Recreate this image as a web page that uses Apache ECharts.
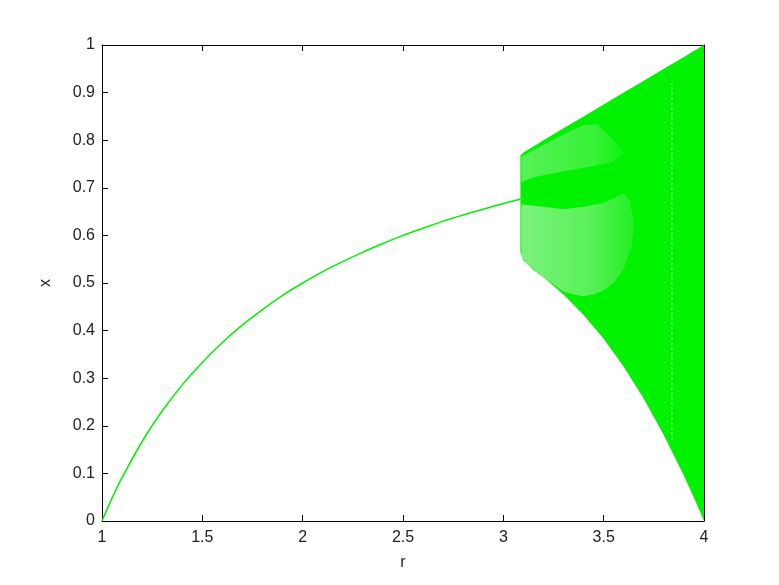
<!DOCTYPE html>
<html>
<head>
<meta charset="utf-8">
<script src="https://cdn.jsdelivr.net/npm/echarts@6/dist/echarts.min.js"></script>
<style>
html,body{margin:0;padding:0;background:#fff;}
#main{width:779px;height:585px;}
</style>
</head>
<body>
<div id="main"></div>
<script>
// Period-1 branch (r < ~3.08)
const curveR = [1, 1.05, 1.1, 1.2, 1.3, 1.4, 1.5, 1.6, 1.7, 1.8, 1.9, 2, 2.1, 2.2, 2.3, 2.4, 2.5, 2.6, 2.7, 2.8, 2.9, 3, 3.085];
const curveX = [0, 0.048, 0.091, 0.167, 0.231, 0.286, 0.333, 0.375, 0.412, 0.444, 0.474, 0.5, 0.524, 0.545, 0.565, 0.583, 0.6, 0.615, 0.63, 0.643, 0.655, 0.667, 0.676];

// Envelope of the dense region (upper edge, left to right)
const upperR = [3.085, 3.1, 3.15, 3.2, 3.3, 3.4, 3.5, 3.6, 3.7, 3.8, 3.9, 4.0];
const upperX = [0.768, 0.774, 0.787, 0.8, 0.825, 0.85, 0.875, 0.9, 0.925, 0.95, 0.975, 1.0];
// lower edge, right to left
const lowerR = [4.0, 3.95, 3.9, 3.8, 3.7, 3.6, 3.5, 3.4, 3.3, 3.2, 3.15, 3.1, 3.085];
const lowerX = [0.0, 0.049, 0.095, 0.18, 0.257, 0.324, 0.383, 0.433, 0.476, 0.512, 0.528, 0.548, 0.566];

// Sparser (speckled) lobes inside the dense region
const lobeLowR = [3.09, 3.2, 3.3, 3.4, 3.5, 3.6, 3.63, 3.65, 3.64, 3.6, 3.55, 3.5, 3.45, 3.4, 3.35, 3.3, 3.2, 3.12, 3.09];
const lobeLowX = [0.665, 0.66, 0.655, 0.66, 0.668, 0.688, 0.675, 0.625, 0.58, 0.53, 0.5, 0.485, 0.476, 0.472, 0.476, 0.482, 0.512, 0.54, 0.556];
const lobeUpR = [3.09, 3.2, 3.3, 3.4, 3.47, 3.55, 3.6, 3.55, 3.45, 3.3, 3.15, 3.09];
const lobeUpX = [0.765, 0.79, 0.812, 0.832, 0.833, 0.8, 0.775, 0.756, 0.746, 0.735, 0.722, 0.712];

// Faint streak (periodic window)
const streakR = [3.84, 3.84];
const streakX = [0.17, 0.92];

const xTicks = [1, 1.5, 2, 2.5, 3, 3.5, 4];
const yTicks = [0, 0.1, 0.2, 0.3, 0.4, 0.5, 0.6, 0.7, 0.8, 0.9, 1];

const GREEN = '#00f200';

function polygonSeries(rs, xs, fill, z) {
  return {
    type: 'custom',
    coordinateSystem: 'cartesian2d',
    xAxisIndex: 0, yAxisIndex: 0,
    z: z,
    silent: true,
    data: [[rs[0], xs[0]]],
    renderItem: function (params, api) {
      const pts = rs.map((r, i) => api.coord([r, xs[i]]));
      return { type: 'polygon', shape: { points: pts }, style: { fill: fill, stroke: null, lineWidth: 0 } };
    }
  };
}

const bandR = upperR.concat(lowerR);
const bandX = upperX.concat(lowerX);

const lowLobeFill = new echarts.graphic.LinearGradient(0, 0, 1, 0, [
  { offset: 0, color: '#7cf27c' },
  { offset: 0.6, color: '#5af05a' },
  { offset: 1, color: '#22f022' }
]);
const upLobeFill = new echarts.graphic.LinearGradient(0, 0, 1, 0, [
  { offset: 0, color: '#58f158' },
  { offset: 0.7, color: '#38f138' },
  { offset: 1, color: '#10f210' }
]);

const labelFont = { fontFamily: 'Liberation Sans, Arial, sans-serif', fontSize: 16, color: '#222' };

const chart = echarts.init(document.getElementById('main'), null, { renderer: 'canvas' });
chart.setOption({
  animation: false,
  backgroundColor: '#fff',
  grid: { left: 102, right: 75, top: 45, bottom: 64, containLabel: false },
  xAxis: [
    {
      type: 'value', min: 1, max: 4, interval: 0.5,
      name: 'r', nameLocation: 'middle', nameGap: 34,
      nameTextStyle: Object.assign({}, labelFont),
      axisLine: { show: true, onZero: false, lineStyle: { color: '#000', width: 1 } },
      axisTick: { show: true, inside: true, length: 6, lineStyle: { color: '#000' } },
      axisLabel: Object.assign({ margin: 9, formatter: v => String(v) }, labelFont),
      splitLine: { show: false }
    },
    {
      type: 'value', position: 'top', min: 1, max: 4, interval: 0.5,
      axisLine: { show: true, onZero: false, lineStyle: { color: '#000', width: 1 } },
      axisTick: { show: true, inside: true, length: 6, lineStyle: { color: '#000' } },
      axisLabel: { show: false }, splitLine: { show: false }
    }
  ],
  yAxis: [
    {
      type: 'value', min: 0, max: 1, interval: 0.1,
      name: 'x', nameLocation: 'middle', nameGap: 48, nameRotate: 90,
      nameTextStyle: Object.assign({}, labelFont),
      axisLine: { show: true, onZero: false, lineStyle: { color: '#000', width: 1 } },
      axisTick: { show: true, inside: true, length: 6, lineStyle: { color: '#000' } },
      axisLabel: Object.assign({ margin: 7, formatter: v => String(Math.round(v * 10) / 10) }, labelFont),
      splitLine: { show: false }
    },
    {
      type: 'value', position: 'right', min: 0, max: 1, interval: 0.1,
      axisLine: { show: true, onZero: false, lineStyle: { color: '#000', width: 1 } },
      axisTick: { show: true, inside: true, length: 6, lineStyle: { color: '#000' } },
      axisLabel: { show: false }, splitLine: { show: false }
    }
  ],
  series: [
    {
      type: 'line',
      xAxisIndex: 0, yAxisIndex: 0,
      data: curveR.map((r, i) => [r, curveX[i]]),
      smooth: 0.3,
      showSymbol: false,
      lineStyle: { color: GREEN, width: 1.5 },
      z: 3
    },
    polygonSeries(bandR, bandX, GREEN, 2),
    polygonSeries(lobeLowR, lobeLowX, lowLobeFill, 4),
    polygonSeries(lobeUpR, lobeUpX, upLobeFill, 4),
    {
      type: 'line',
      xAxisIndex: 0, yAxisIndex: 0,
      data: streakR.map((r, i) => [r, streakX[i]]),
      showSymbol: false,
      lineStyle: { color: '#9af79a', width: 1, type: [3, 2] },
      z: 5
    }
  ]
});
</script>
</body>
</html>
